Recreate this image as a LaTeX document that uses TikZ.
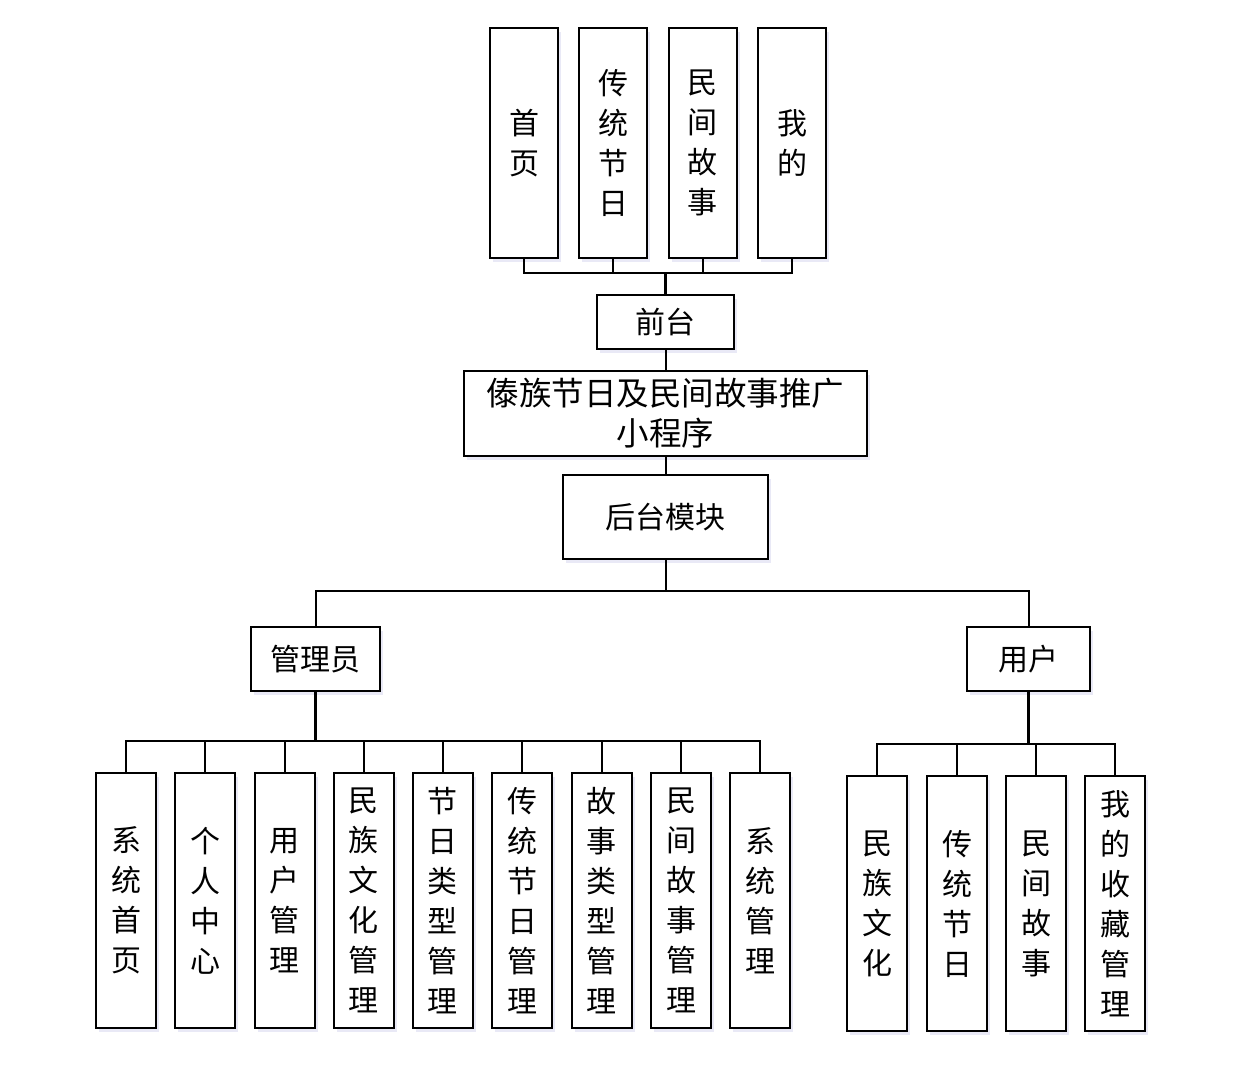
\documentclass[tikz,border=0pt]{standalone}
\usepackage{fontspec}
\setmainfont{Noto Sans CJK SC}
\usepackage{tikz}
\usetikzlibrary{shadows}

\tikzset{
  box/.style={draw, line width=2pt, fill=white, inner sep=0pt, align=center,
    font=\fontsize{30}{40}\selectfont,
    drop shadow={shadow xshift=3pt, shadow yshift=-4pt, opacity=0.12, fill=blue!40!gray}},
  tallbox/.style={box, minimum width=68pt, minimum height=230pt},
  leafbox/.style={box, minimum width=60pt, minimum height=255pt},
  link/.style={line width=2pt},
  trunk/.style={line width=3pt}
}

\begin{document}
\begin{tikzpicture}[x=1pt, y=-1pt]

		\useasboundingbox (0,0) rectangle (1233,1066);

		% --- front end ---
		\node[tallbox] (shouye) at (524,143) {首\\页};
		\node[tallbox] (chuantong) at (613,143) {传\\统\\节\\日};
		\node[tallbox] (minjian) at (702.5,143) {民\\间\\故\\事};
		\node[tallbox] (wode) at (792,143) {我\\的};
		\node[box, minimum width=137pt, minimum height=54pt] (qiantai) at (665.5,322) {前台};

		% --- main ---
		\node[box, minimum width=403pt, minimum height=85pt, font=\fontsize{32.5}{40}\selectfont] (app) at (665.5,413.5) {傣族节日及民间故事推广\\小程序};
		\node[box, minimum width=205pt, minimum height=84pt] (houtai) at (665.5,517) {后台模块};

		% --- roles ---
		\node[box, minimum width=129pt, minimum height=64pt] (admin) at (315.5,659) {管理员};
		\node[box, minimum width=123pt, minimum height=64pt] (user) at (1028.5,659) {用户};

		% --- admin modules ---
		\node[leafbox] (a1) at (126,900.5) {系\\统\\首\\页};
		\node[leafbox] (a2) at (205,900.5) {个\\人\\中\\心};
		\node[leafbox] (a3) at (284.5,900.5) {用\\户\\管\\理};
		\node[leafbox] (a4) at (363.5,900.5) {民\\族\\文\\化\\管\\理};
		\node[leafbox] (a5) at (442.5,900.5) {节\\日\\类\\型\\管\\理};
		\node[leafbox] (a6) at (522,900.5) {传\\统\\节\\日\\管\\理};
		\node[leafbox] (a7) at (601.5,900.5) {故\\事\\类\\型\\管\\理};
		\node[leafbox] (a8) at (681,900.5) {民\\间\\故\\事\\管\\理};
		\node[leafbox] (a9) at (760,900.5) {系\\统\\管\\理};

		% --- user modules ---
		\node[leafbox] (u1) at (877,903.5) {民\\族\\文\\化};
		\node[leafbox] (u2) at (957,903.5) {传\\统\\节\\日};
		\node[leafbox] (u3) at (1036,903.5) {民\\间\\故\\事};
		\node[leafbox] (u4) at (1115,903.5) {我\\的\\收\\藏\\管\\理};

		% --- connectors ---
		\coordinate (fbus) at (665.5,273);
		\coordinate (hbus) at (665.5,591);
		\coordinate (abus) at (315.5,741);
		\coordinate (ubus) at (1028.5,744);

		\draw[trunk] (qiantai.north) -- (fbus);
		\draw[link] (shouye.south) |- (fbus);
		\draw[link] (chuantong.south) |- (fbus);
		\draw[link] (minjian.south) |- (fbus);
		\draw[link] (wode.south) |- (fbus);

		\draw[link] (qiantai.south) -- (app.north);
		\draw[link] (app.south) -- (houtai.north);

		\draw[link] (houtai.south) -- (hbus);
		\draw[link] (admin.north) |- (hbus);
		\draw[link] (user.north) |- (hbus);

		\draw[trunk] (admin.south) -- (abus);
		\draw[link] (a1.north) |- (abus);
		\draw[link] (a2.north) |- (abus);
		\draw[link] (a3.north) |- (abus);
		\draw[link] (a4.north) |- (abus);
		\draw[link] (a5.north) |- (abus);
		\draw[link] (a6.north) |- (abus);
		\draw[link] (a7.north) |- (abus);
		\draw[link] (a8.north) |- (abus);
		\draw[link] (a9.north) |- (abus);

		\draw[trunk] (user.south) -- (ubus);
		\draw[link] (u1.north) |- (ubus);
		\draw[link] (u2.north) |- (ubus);
		\draw[link] (u3.north) |- (ubus);
		\draw[link] (u4.north) |- (ubus);

	\end{tikzpicture}
\end{document}
